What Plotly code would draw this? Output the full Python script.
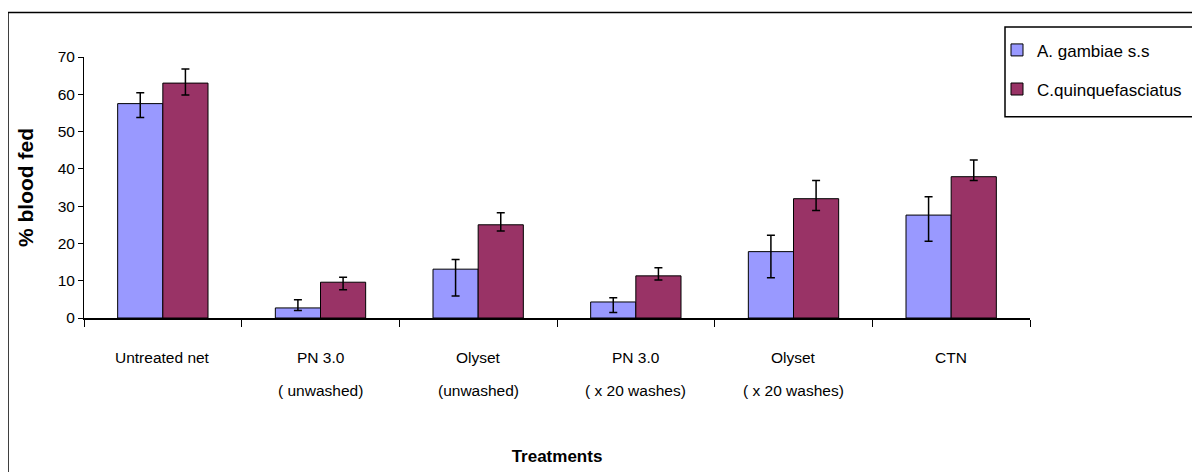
import plotly.graph_objects as go

# ---- data ----
label_line1 = ["Untreated net", "PN 3.0", "Olyset", "PN 3.0", "Olyset", "CTN"]
label_line2 = ["", "( unwashed)", "(unwashed)", "( x 20 washes)", "( x 20 washes)", ""]
categories = [f"{a}<br>{b}" if b else a for a, b in zip(label_line1, label_line2)]

gambiae = [57.5, 2.7, 13.1, 4.3, 17.8, 27.6]
gambiae_plus = [2.9, 2.2, 2.6, 1.1, 4.4, 4.9]
gambiae_minus = [3.7, 0.7, 7.2, 2.8, 7.0, 7.0]

quinque = [63.0, 9.6, 25.0, 11.3, 32.0, 37.9]
quinque_plus = [3.8, 1.3, 3.2, 2.2, 4.9, 4.5]
quinque_minus = [3.2, 2.0, 1.7, 1.1, 3.2, 1.0]

series_names = ["A. gambiae s.s", "C.quinquefasciatus"]
colors = ["#9999FF", "#993366"]

FONT = "Liberation Sans, Arial, sans-serif"

fig = go.Figure()
for name, vals, plus, minus, col, grp in [
    (series_names[0], gambiae, gambiae_plus, gambiae_minus, colors[0], "g1"),
    (series_names[1], quinque, quinque_plus, quinque_minus, colors[1], "g2"),
]:
    fig.add_trace(go.Bar(
        x=categories, y=vals, name=name, legendgroup=grp,
        marker=dict(color=col, line=dict(color="black", width=1)),
        error_y=dict(type="data", symmetric=False, array=plus, arrayminus=minus,
                     color="black", thickness=1.5, width=4),
    ))

# category labels (two lines, wide line spacing)
for cat, l1, l2 in zip(categories, label_line1, label_line2):
    fig.add_annotation(x=cat, y=0, xref="x", yref="y", text=l1, showarrow=False,
                       yshift=-39, yanchor="middle",
                       font=dict(family=FONT, size=15.5, color="black"))
    if l2:
        fig.add_annotation(x=cat, y=0, xref="x", yref="y", text=l2, showarrow=False,
                           yshift=-72, yanchor="middle",
                           font=dict(family=FONT, size=15.5, color="black"))

# outer chart border and legend box
fig.add_shape(type="rect", xref="paper", yref="paper",
              x0=(8 - 84) / 946, x1=(1210 - 84) / 946,
              y0=(318.3 - 490) / 261.6, y1=(318.3 - 12) / 261.6,
              line=dict(color="black", width=1.5), fillcolor="rgba(0,0,0,0)", layer="below")
fig.add_shape(type="rect", xref="paper", yref="paper",
              x0=(1005 - 84) / 946, x1=(1197 - 84) / 946,
              y0=(318.3 - 116.5) / 261.6, y1=(318.3 - 26.7) / 261.6,
              line=dict(color="black", width=1.5), fillcolor="rgba(0,0,0,0)", layer="below")

fig.update_layout(
    width=1200, height=472,
    margin=dict(l=76, r=178, t=48.7, b=161.7, autoexpand=False),
    paper_bgcolor="white", plot_bgcolor="white",
    barmode="group", bargap=0.427, bargroupgap=0,
    font=dict(family=FONT, size=15.5, color="black"),
    legend=dict(x=(997 - 84) / 946, y=(318.3 - 32) / 261.6, xanchor="left", yanchor="top",
                bgcolor="rgba(0,0,0,0)", borderwidth=0, traceorder="grouped",
                tracegroupgap=14, font=dict(family=FONT, size=17, color="black")),
    xaxis=dict(showline=True, linecolor="black", linewidth=1.5, ticks="outside",
               ticklen=7, tickcolor="black", tickson="boundaries", showticklabels=False,
               showgrid=False, zeroline=False,
               title=dict(text="<b>Treatments</b>", standoff=131,
                          font=dict(family=FONT, size=17, color="black"))),
    yaxis=dict(range=[0, 70], dtick=10, showline=True, linecolor="black", linewidth=1,
               ticks="outside", ticklen=5, tickcolor="black", showgrid=False, zeroline=False,
               tickfont=dict(family=FONT, size=15.5, color="black"),
               title=dict(text="<b>% blood fed</b>", standoff=18,
                          font=dict(family=FONT, size=21, color="black"))),
)

fig.write_html("out.html")
